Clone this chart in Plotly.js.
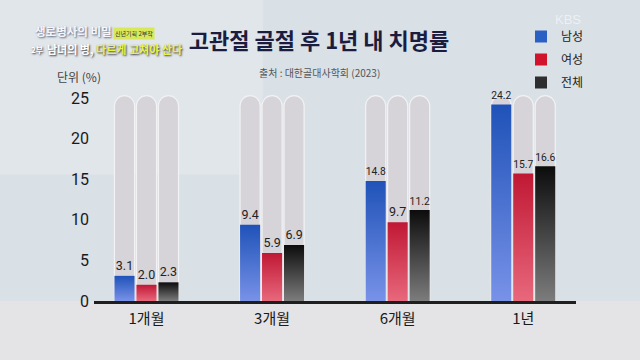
<!DOCTYPE html>
<html><head><meta charset="utf-8">
<script src="https://cdn.plot.ly/plotly-3.0.1.min.js"></script>
<style>html,body{margin:0;padding:0;background:#d9e0e6}</style>
</head><body><div id="chart" style="width:640px;height:360px"></div>
<script>
// ---- data ----
const categories = ['1개월', '3개월', '6개월', '1년'];
const seriesNames = ['남성', '여성', '전체'];
const male = [3.1, 9.4, 14.8, 24.2];
const female = [2.0, 5.9, 9.7, 15.7];
const total = [2.3, 6.9, 11.2, 16.6];
const trackMax = [25.3, 25.3, 25.3, 25.3];
const yTicks = [0, 5, 10, 15, 20, 25];

// ---- styling ----
const seriesValues = [male, female, total];
const legendColors = ['#2a60c4', '#d0142c', '#2e2e2e'];
const gradStops = [['#1f52b8', '#7892e8'], ['#c01834', '#e8687c'], ['#0c0c0c', '#7c7c7c']];
const barW = 0.16;
const offsets = [-0.255, -0.08, 0.095];
const numFont = '"Liberation Sans Narrow", "Roboto", "Noto Sans CJK KR", sans-serif';
const krFont = '"Noto Sans CJK KR", "Noto Sans", sans-serif';

const traces = [];
seriesNames.forEach((n, i) => {
  traces.push({
    type: 'bar', x: categories, y: trackMax, width: barW, offset: offsets[i],
    marker: {color: '#d6d4d9', cornerradius: '50%', line: {color: '#f2f2f4', width: 1.2}},
    showlegend: false, hoverinfo: 'skip'
  });
});
seriesNames.forEach((n, i) => {
  traces.push({
    type: 'bar', name: n, x: categories, y: seriesValues[i], width: barW, offset: offsets[i],
    marker: {color: legendColors[i], line: {width: 0}},
    texttemplate: '%{y:.1f}', textposition: 'outside', cliponaxis: false,
    textfont: {family: numFont, size: 12.5, color: '#222'},
    legendgroup: 'g' + i
  });
});

// px -> paper helpers (plot area: x 94..576, y 90..301)
const px = v => (v - 94) / 482;
const py = v => (301 - v) / 211;
const ann = (text, x, y, font, extra) => Object.assign({
  text, x: px(x), y: py(y), xref: 'paper', yref: 'paper', xanchor: 'center', yanchor: 'middle',
  showarrow: false, font
}, extra || {});

const layout = {
  width: 640, height: 360,
  margin: {l: 94, r: 64, t: 90, b: 59},
  paper_bgcolor: '#d9e0e6', plot_bgcolor: 'rgba(0,0,0,0)',
  barmode: 'overlay',
  font: {family: krFont, color: '#222'},
  title: {text: '고관절 골절 후 1년 내 치명률', x: 319 / 640, xanchor: 'center', xref: 'container',
          y: 1 - 41 / 360, yanchor: 'middle', yref: 'container',
          font: {family: krFont, size: 22, weight: 'bold', color: '#1c1c3e'}},
  xaxis: {type: 'category', range: [-0.418, 3.42], showline: true, linecolor: '#1e1e1e', linewidth: 3,
          ticks: '', showgrid: false, tickfont: {family: krFont, size: 15, color: '#1a1a1a'}, ticklabelstandoff: 2},
  yaxis: {range: [0, 26], tickvals: yTicks, ticktext: yTicks.map(String), showgrid: false, zeroline: false,
          showline: false, ticks: '', tickfont: {family: numFont, size: 16, color: '#1a1a1a'}, ticklabelstandoff: 4},
  legend: {x: px(521), xanchor: 'left', y: py(22), yanchor: 'top', traceorder: 'grouped', tracegroupgap: 4,
           bgcolor: 'rgba(0,0,0,0)', font: {family: krFont, size: 12, color: '#222'}, itemwidth: 30},
  shapes: [
    {type: 'rect', xref: 'paper', yref: 'paper', x0: -0.3, x1: 1.2, y0: 0, y1: -0.4, layer: 'below',
     line: {width: 0}, fillcolor: '#e4e3e6'},
    {type: 'rect', xref: 'paper', yref: 'paper', x0: -0.3, x1: 0.35, y0: 0.6, y1: 1.45, layer: 'below',
     line: {width: 0}, fillcolor: 'rgba(235,238,242,0.45)'}
  ],
  annotations: [
    ann('출처 : 대한골대사학회 (2023)', 319, 72, {family: krFont, size: 10, color: '#555'}),
    ann('단위 (%)', 79, 77, {family: krFont, size: 12, color: '#444'}),
    ann('생로병사의 비밀', 73, 31, {family: krFont, size: 11.5, weight: 'bold', color: '#f6f6fa', shadow: '1px 1px 2px #55607a'}),
    ann('신년기획 2부작', 134, 33, {family: krFont, size: 6, color: '#333'}, {bgcolor: '#d8e85a', borderpad: 1}),
    ann('2부', 37, 49, {family: krFont, size: 8, weight: 'bold', color: '#fff', shadow: '1px 1px 2px #333'}),
    ann('<span style="color:#ffffff">남녀의 병,</span> <span style="color:#e8f24a">다르게 고쳐야 산다</span>',
        114, 49, {family: krFont, size: 11, weight: 'bold', color: '#fff', shadow: '1px 1px 2px #333'}),
    ann('KBS', 568, 20, {family: '"Liberation Sans", sans-serif', size: 13, color: 'rgba(255,255,255,0.55)'})
  ]
};

Plotly.newPlot('chart', traces, layout, {displayModeBar: false, staticPlot: true}).then(gd => {
  const svg = gd.querySelector('svg.main-svg');
  const ns = 'http://www.w3.org/2000/svg';
  let defs = svg.querySelector('defs');
  if (!defs) { defs = document.createElementNS(ns, 'defs'); svg.insertBefore(defs, svg.firstChild); }
  gradStops.forEach((st, i) => {
    const g = document.createElementNS(ns, 'linearGradient');
    g.setAttribute('id', 'barGrad' + i);
    g.setAttribute('x1', '0'); g.setAttribute('y1', '0'); g.setAttribute('x2', '0'); g.setAttribute('y2', '1');
    [[0, st[0]], [1, st[1]]].forEach(([o, c]) => {
      const s = document.createElementNS(ns, 'stop');
      s.setAttribute('offset', o); s.setAttribute('stop-color', c);
      g.appendChild(s);
    });
    defs.appendChild(g);
  });
  const barTraces = gd.querySelectorAll('.barlayer .trace.bars');
  barTraces.forEach((t, idx) => {
    if (idx >= 3) {
      t.querySelectorAll('.point path').forEach(p => { p.style.fill = 'url(#barGrad' + (idx - 3) + ')'; });
    }
  });
});
</script></body></html>
